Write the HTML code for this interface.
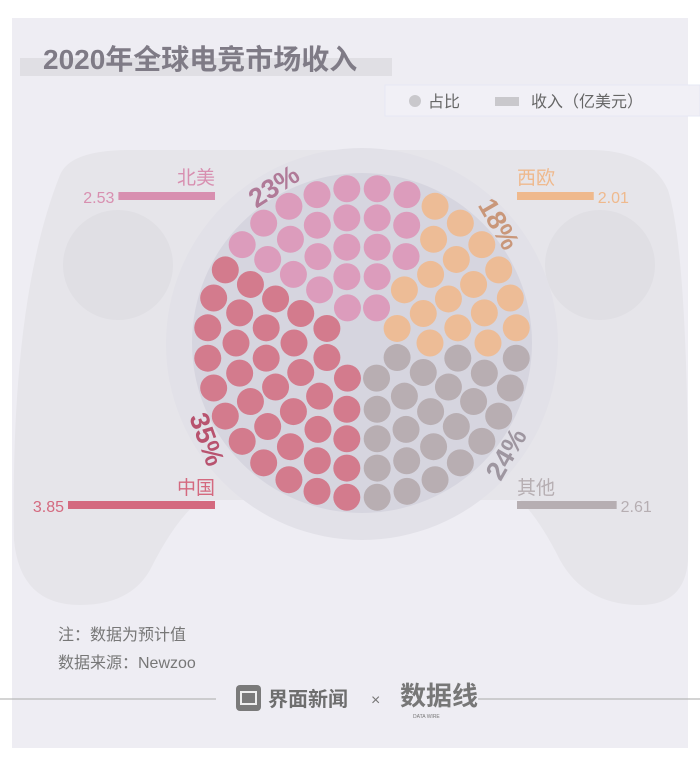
<!DOCTYPE html>
<html><head><meta charset="utf-8">
<style>
html,body{margin:0;padding:0;background:#fff;}
body{width:700px;height:767px;position:relative;overflow:hidden;font-family:"Liberation Sans","Noto Sans CJK SC",sans-serif;}
svg{position:absolute;left:0;top:0;}
</style></head>
<body>
<svg id="chart" width="700" height="767" viewBox="0 0 700 767">
  <rect x="12" y="18" width="676" height="730" fill="#eeedf3"/>
  <g>
    <path d="M60,175 Q70,150 130,150 L590,150 Q650,150 668,190 Q690,260 688,560 Q685,605 640,605 Q585,605 560,560 Q540,520 520,500 L200,500 Q175,520 150,570 Q130,605 80,605 Q20,605 14,540 Q10,300 60,175 Z" fill="#e6e5ea"/>
    <circle cx="118" cy="265" r="55" fill="#e0dfe4"/>
    <circle cx="600" cy="265" r="55" fill="#e0dfe4"/>
  </g>
  <rect x="20" y="58" width="372" height="18" fill="#e0dfe4"/>
  <text x="43" y="69" font-size="28" font-weight="bold" fill="#7f7b86">2020年全球电竞市场收入</text>
  <rect x="385" y="85" width="315" height="31" fill="#f1f0f6" stroke="#e6e8f4"/>
  <circle cx="415" cy="101" r="6" fill="#c9c8cc"/>
  <text x="428" y="107" font-size="16" fill="#666">占比</text>
  <rect x="495" y="97" width="24" height="9" fill="#c9c8cc"/>
  <text x="531" y="107" font-size="16" fill="#666">收入（亿美元）</text>
  <circle cx="362" cy="344" r="196" fill="#e2e1e8"/>
  <circle cx="362" cy="343" r="170" fill="#d6d5df"/>
  <g id="dots"></g>
  <g id="bars"></g>
  <g id="pcts"></g>
  <text x="58" y="640" font-size="16" fill="#777">注：数据为预计值</text>
  <text x="58" y="668" font-size="16" fill="#777">数据来源：Newzoo</text>
  <line x1="0" y1="699" x2="216" y2="699" stroke="#aaa"/>
  <line x1="478" y1="699" x2="700" y2="699" stroke="#aaa"/>
  <rect x="236" y="685" width="25" height="26" rx="4" fill="#7a7a7a"/>
  <rect x="241" y="692" width="15" height="12" fill="none" stroke="#eee" stroke-width="2"/>
  <text x="268" y="706" font-size="20" font-weight="bold" fill="#6e6e6e">界面新闻</text>
  <text x="371" y="705" font-size="16" fill="#777">×</text>
  <text x="400" y="705" font-size="26" font-weight="bold" fill="#777">数据线</text>
  <text x="413" y="718" font-size="5" fill="#777">DATA WIRE</text>
</svg>
<script>
const regions = ["中国","北美","西欧","其他"];
const shares = [35, 23, 18, 24];
const revenues = [3.85, 2.53, 2.01, 2.61];
const valueLabels = ["3.85","2.53","2.01","2.61"];
const pctLabels = ["35%","23%","18%","24%"];
const colors = ["#d37b8d","#dc9cbc","#edbc96","#b8aeb2"];
const textColors = ["#d4697f","#d88fb0","#efb98d","#b6aeb2"];
const pctColors = ["#b8536f","#b07a98","#c9977a","#9e96a0"];

const NS="http://www.w3.org/2000/svg";
const cx=362, cy=343;
function mk(tag, attrs, parent){const e=document.createElementNS(NS,tag);for(const k in attrs)e.setAttribute(k,attrs[k]);parent.appendChild(e);return e;}

const ringR=[38,68,97,126,155], ringN=[8,14,20,26,32];
let pts=[];
ringR.forEach((r,i)=>{const n=ringN[i];for(let j=0;j<n;j++){const a=(j+0.5)/n*2*Math.PI;pts.push({a:a,r:r});}});
pts.sort((p,q)=>p.a-q.a);
const total=shares.reduce((s,v)=>s+v,0);
const dg=document.getElementById('dots');
let cum=[0];shares.forEach(v=>cum.push(cum[cum.length-1]+v));
pts.forEach((p,idx)=>{
  const frac=(idx+0.5)/pts.length*total;
  let k=0;while(k<shares.length-1&&frac>=cum[k+1])k++;
  const c=mk('circle',{cx:cx-p.r*Math.sin(p.a),cy:cy+p.r*Math.cos(p.a),r:13.5,fill:colors[k]},dg);
  
  
});

const bg=document.getElementById('bars');
const maxV=Math.max(...revenues), maxLen=147;
const len=v=>v/maxV*maxLen;
const barPos=[{side:'L',y:505,ty:494},{side:'L',y:196,ty:184},{side:'R',y:196,ty:184},{side:'R',y:505,ty:494}];
regions.forEach((name,i)=>{
  const p=barPos[i], L=len(revenues[i]);
  let x0=p.side==='L'?215-L:517;
  const b=mk('rect',{x:x0,y:p.y-4,width:L,height:8,fill:textColors[i]},bg);
  
  
  const t=mk('text',{x:p.side==='L'?215:517,y:p.ty,'font-size':19,fill:textColors[i],'text-anchor':p.side==='L'?'end':'start'},bg);
  t.textContent=name;
  
  
  const v=mk('text',{x:p.side==='L'?x0-4:x0+L+4,y:p.y+7,'font-size':16,fill:textColors[i],'text-anchor':p.side==='L'?'end':'start'},bg);
  v.textContent=valueLabels[i];
  
  
});

const pg=document.getElementById('pcts');
const pctPos=[{x:205,y:440,r:70},{x:275,y:188,r:-33},{x:497,y:225,r:60},{x:508,y:455,r:-60}];
pctLabels.forEach((s,i)=>{
  const p=pctPos[i];
  const t=mk('text',{x:p.x,y:p.y,'font-size':27,'font-weight':'bold',fill:pctColors[i],'text-anchor':'middle','dominant-baseline':'middle',transform:`rotate(${p.r} ${p.x} ${p.y})`},pg);
  t.textContent=s;
  
  
});
</script>
</body></html>
